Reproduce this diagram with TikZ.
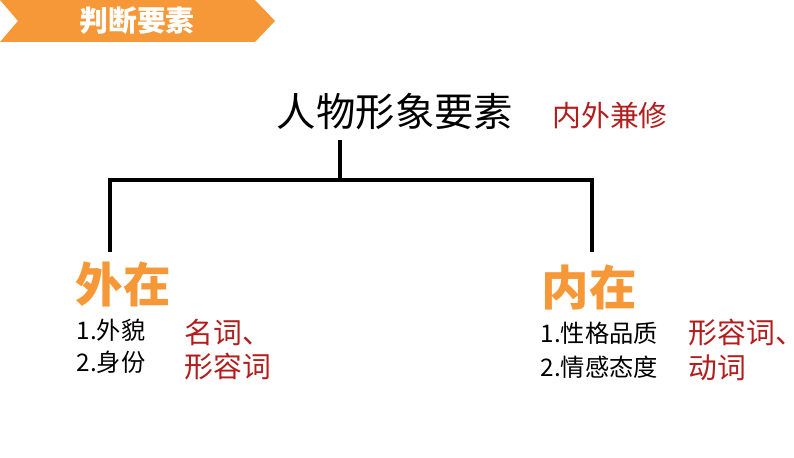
\documentclass[tikz,border=0pt]{standalone}
\usepackage{fontspec}
\setmainfont{Noto Sans CJK SC}
\definecolor{bannerorange}{RGB}{247,152,56}
\definecolor{darkred}{RGB}{178,30,30}
\usetikzlibrary{positioning}
\tikzset{
  heading/.style={font=\fontsize{13.5}{15}\selectfont\bfseries, text=bannerorange, inner sep=0pt},
  item/.style={font=\fontsize{6.9}{8}\selectfont, inner sep=0pt, anchor=west},
  wordclass/.style={font=\fontsize{8.2}{10}\selectfont, text=darkred, inner sep=0pt, anchor=west},
}
\begin{document}
\begin{tikzpicture}[x=0.01cm,y=-0.01cm]
        \useasboundingbox (0,0) rectangle (794,458);

        % banner
        \fill[bannerorange] (0,0) -- (255,0) -- (275,21) -- (255,42) -- (0,42) -- (18,21) -- cycle;
        \node[font=\fontsize{8.2}{9}\selectfont\bfseries, text=white, inner sep=0pt] (banner) at (137,21) {判断要素};

        % tree
        \node[font=\fontsize{11.2}{13}\selectfont, inner sep=0pt] (title) at (395,112) {人物形象要素};
        \node[font=\fontsize{8.2}{10}\selectfont, text=darkred, inner sep=0pt] (motto) at (610,116) {内外兼修};
        \coordinate (stem) at (340,140);
        \coordinate (fork) at (340,180);
        \coordinate (forkl) at (110,180);
        \coordinate (forkr) at (592,180);
        \coordinate (legl) at (110,252);
        \coordinate (legr) at (592,252);
        \draw[line width=1.1pt] (stem) -- (fork);
        \draw[line width=1.1pt] (legl) -- (forkl) -- (forkr) -- (legr);

        % outer
        \node[heading] (outer) at (123,284) {外在};
        \node[item] (o1) at (76,330) {1.外貌};
        \node[item] (o2) at (76,362) {2.身份};
        \node[wordclass] (ow1) at (184,332) {名词、};
        \node[wordclass] (ow2) at (184,367) {形容词};

        % inner
        \node[heading] (inner) at (589,287) {内在};
        \node[item] (i1) at (540,333) {1.性格品质};
        \node[item] (i2) at (540,367) {2.情感态度};
        \node[wordclass] (iw1) at (688,333) {形容词、};
        \node[wordclass] (iw2) at (688,368) {动词};

    \end{tikzpicture}
\end{document}
